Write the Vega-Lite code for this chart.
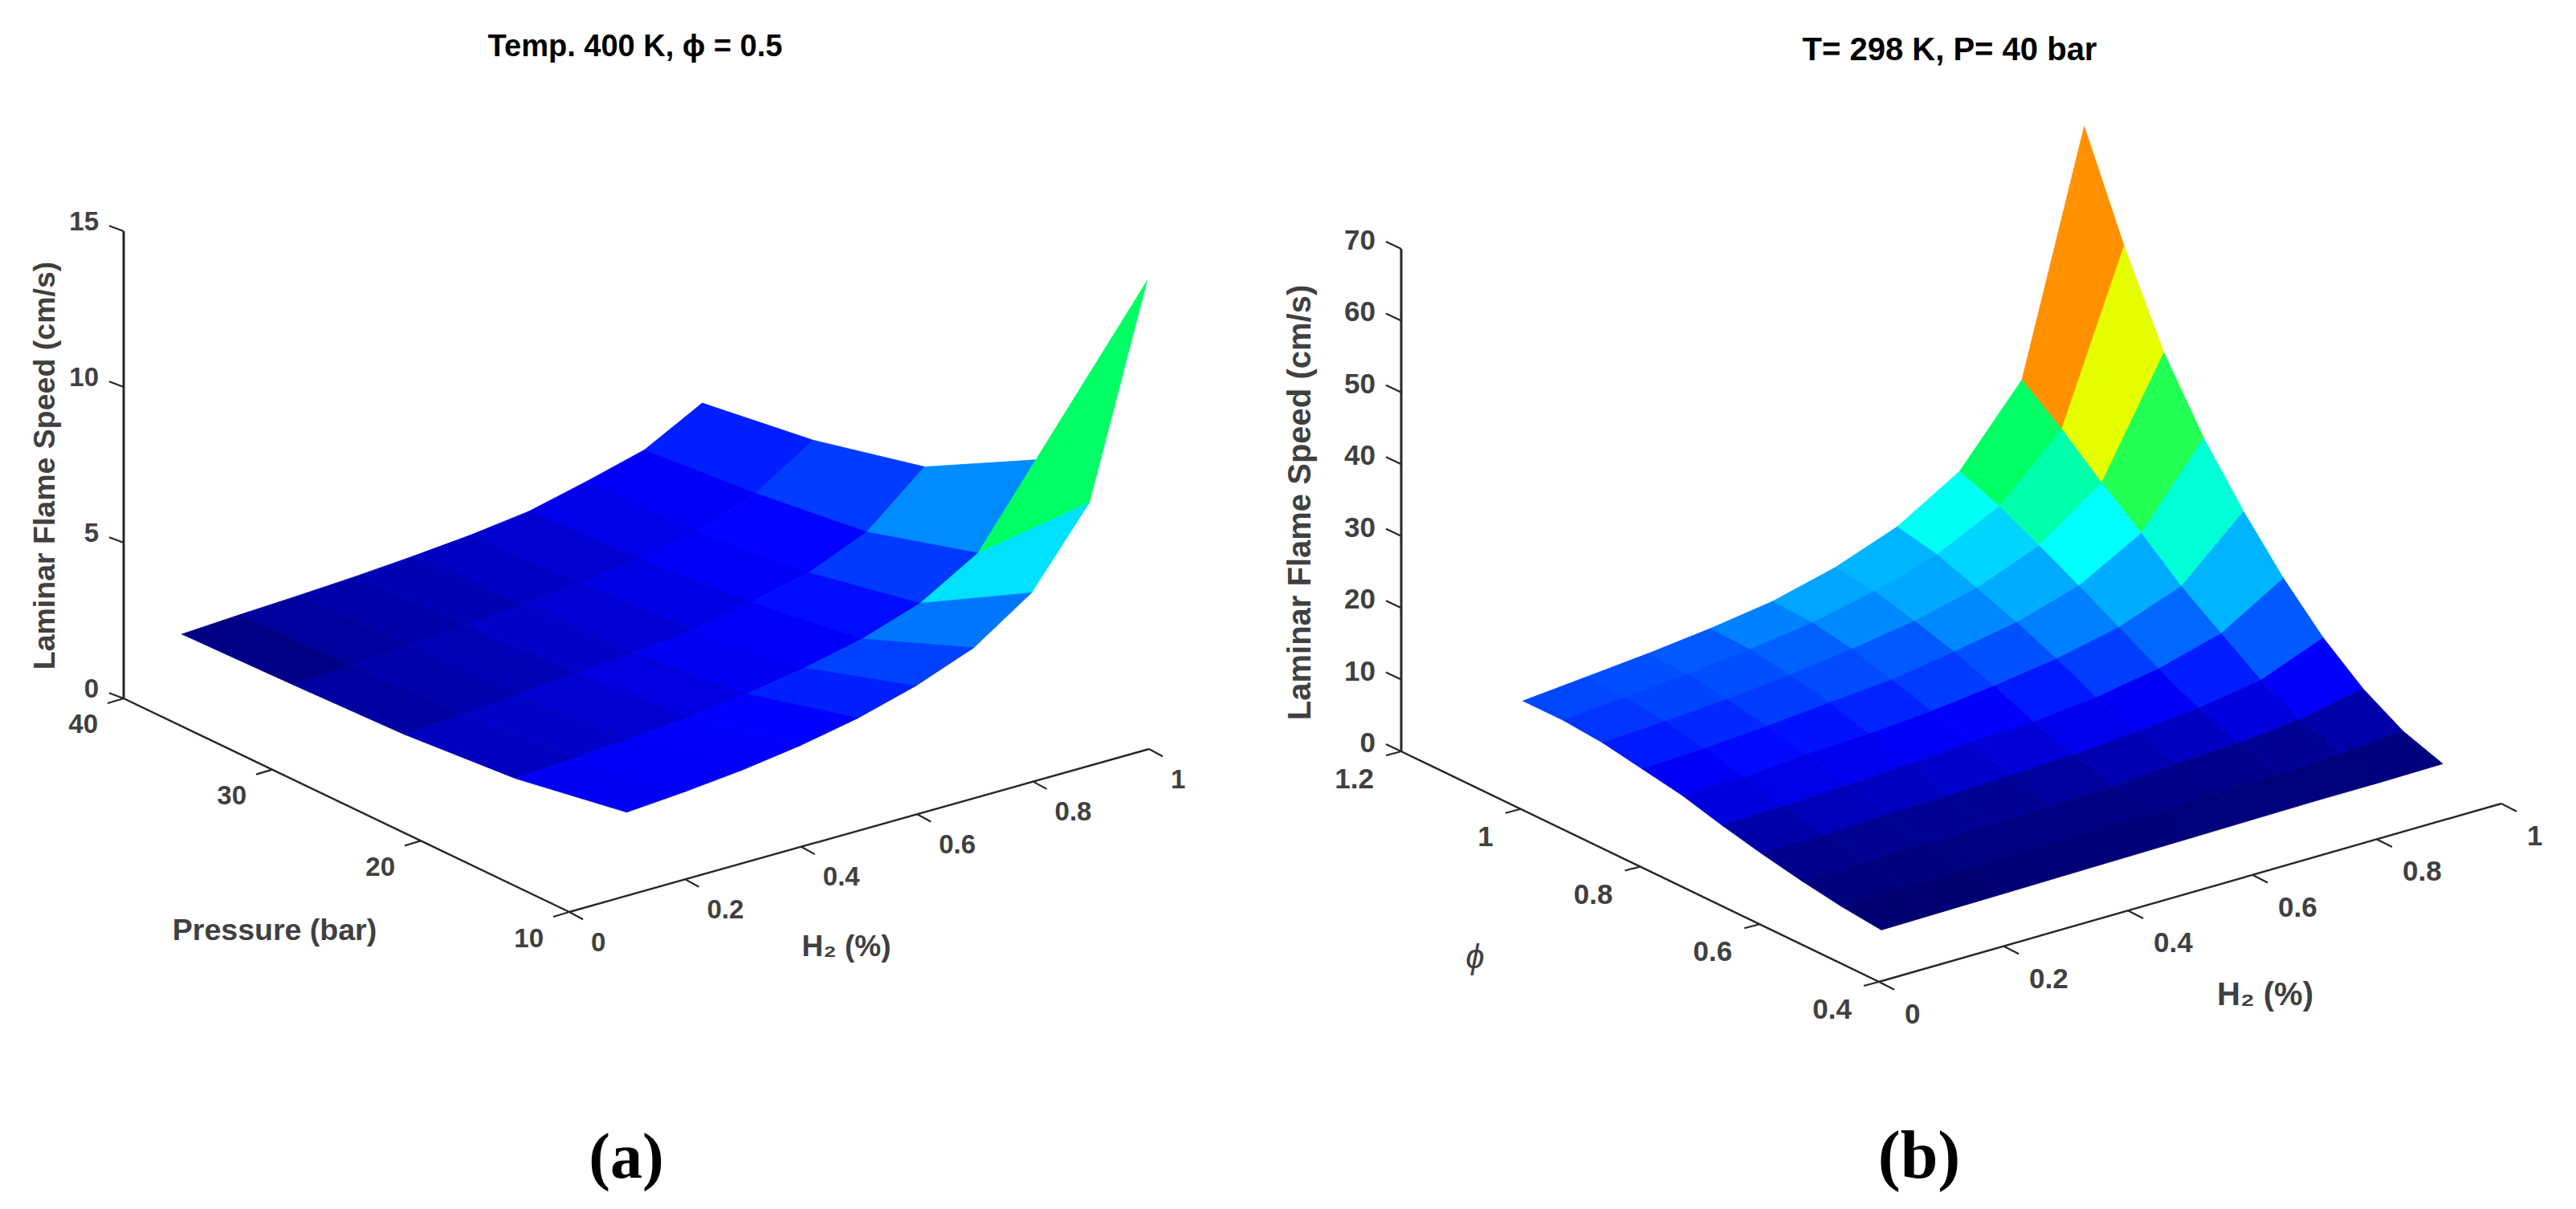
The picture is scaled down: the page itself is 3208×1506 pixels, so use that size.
{
"$schema":"https://vega.github.io/schema/vega-lite/v6.json",
"width":3208,"height":1506,"padding":0,"autosize":{"type":"fit","contains":"padding"},
"background":"white",
"config":{"view":{"stroke":null}},
"params":[
{"name":"G","value":{
"a_h2":{"x0":709,"y0":1136,"v0":0,"dx":722,"dy":-203,"tx":17,"ty":9.3,"lx":27,"ly":38.5,"fs":33},
"a_p":{"x0":709,"y0":1136,"v0":10,"dx":-18.5,"dy":-8.867,"tx":-20,"ty":6,"lx":-32,"ly":33.5,"fs":33},
"a_z":{"x0":154,"y0":870,"v0":0,"dx":0,"dy":-38.8,"tx":-18,"ty":-6.7,"lx":-31,"ly":-11,"fs":33},
"b_h2":{"x0":2340,"y0":1223,"v0":0,"dx":775,"dy":-222,"tx":19,"ty":9.7,"lx":32,"ly":41,"fs":35},
"b_phi":{"x0":2340,"y0":1223,"v0":0.4,"dx":-743.75,"dy":-358.75,"tx":-19,"ty":5,"lx":-34,"ly":35,"fs":35},
"b_z":{"x0":1745,"y0":936,"v0":0,"dx":0,"dy":-8.943,"tx":-19,"ty":-9,"lx":-32,"ly":-10,"fs":35}}},
{"name":"L","value":{
"ylab_a":{"x":57,"y":580,"s":37.5,"r":270},
"ylab_b":{"x":1620,"y":626,"s":40,"r":270},
"plab_a":{"x":342,"y":1160,"s":37.5,"r":0},
"hlab_a":{"x":1054,"y":1180,"s":37,"r":0},
"hlab_b":{"x":2821,"y":1240,"s":40,"r":0},
"title_a":{"x":791,"y":70,"s":38,"r":0},
"title_b":{"x":2428,"y":75,"s":40,"r":0},
"let_a":{"x":780,"y":1443,"s":80,"r":0},
"let_b":{"x":2390,"y":1442,"s":84,"r":0},
"phi_b":{"x":1837,"y":1193,"s":42,"r":0}}}
],
"datasets":{
"verts":[
{"k":"a_9_4","panel":"a","i":9,"j":4,"speed":4.25},{"k":"a_8_4","panel":"a","i":8,"j":4,"speed":3.27},{"k":"a_7_4","panel":"a","i":7,"j":4,"speed":2.78},{"k":"a_6_4","panel":"a","i":6,"j":4,"speed":2.34},{"k":"a_5_4","panel":"a","i":5,"j":4,"speed":2.11},{"k":"a_4_4","panel":"a","i":4,"j":4,"speed":1.95},{"k":"a_3_4","panel":"a","i":3,"j":4,"speed":1.82},{"k":"a_2_4","panel":"a","i":2,"j":4,"speed":1.72},{"k":"a_1_4","panel":"a","i":1,"j":4,"speed":1.64},{"k":"a_0_4","panel":"a","i":0,"j":4,"speed":1.54},
{"k":"a_9_3","panel":"a","i":9,"j":3,"speed":4.77},{"k":"a_8_3","panel":"a","i":8,"j":3,"speed":3.59},{"k":"a_7_3","panel":"a","i":7,"j":3,"speed":2.91},{"k":"a_6_3","panel":"a","i":6,"j":3,"speed":2.55},{"k":"a_5_3","panel":"a","i":5,"j":3,"speed":2.27},{"k":"a_4_3","panel":"a","i":4,"j":3,"speed":2.12},{"k":"a_3_3","panel":"a","i":3,"j":3,"speed":1.96},{"k":"a_2_3","panel":"a","i":2,"j":3,"speed":1.86},{"k":"a_1_3","panel":"a","i":1,"j":3,"speed":1.73},{"k":"a_0_3","panel":"a","i":0,"j":3,"speed":1.63},
{"k":"a_9_2","panel":"a","i":9,"j":2,"speed":5.63},{"k":"a_8_2","panel":"a","i":8,"j":2,"speed":4.06},{"k":"a_7_2","panel":"a","i":7,"j":2,"speed":3.28},{"k":"a_6_2","panel":"a","i":6,"j":2,"speed":2.85},{"k":"a_5_2","panel":"a","i":5,"j":2,"speed":2.48},{"k":"a_4_2","panel":"a","i":4,"j":2,"speed":2.30},{"k":"a_3_2","panel":"a","i":3,"j":2,"speed":2.15},{"k":"a_2_2","panel":"a","i":2,"j":2,"speed":2.00},{"k":"a_1_2","panel":"a","i":1,"j":2,"speed":1.87},{"k":"a_0_2","panel":"a","i":0,"j":2,"speed":1.75},
{"k":"a_9_1","panel":"a","i":9,"j":1,"speed":7.57},{"k":"a_8_1","panel":"a","i":8,"j":1,"speed":5.10},{"k":"a_7_1","panel":"a","i":7,"j":1,"speed":4.01},{"k":"a_6_1","panel":"a","i":6,"j":1,"speed":3.39},{"k":"a_5_1","panel":"a","i":5,"j":1,"speed":2.98},{"k":"a_4_1","panel":"a","i":4,"j":1,"speed":2.67},{"k":"a_3_1","panel":"a","i":3,"j":1,"speed":2.44},{"k":"a_2_1","panel":"a","i":2,"j":1,"speed":2.29},{"k":"a_1_1","panel":"a","i":1,"j":1,"speed":2.16},{"k":"a_0_1","panel":"a","i":0,"j":1,"speed":2.05},
{"k":"a_9_0","panel":"a","i":9,"j":0,"speed":15.03},{"k":"a_8_0","panel":"a","i":8,"j":0,"speed":8.43},{"k":"a_7_0","panel":"a","i":7,"j":0,"speed":6.06},{"k":"a_6_0","panel":"a","i":6,"j":0,"speed":4.82},{"k":"a_5_0","panel":"a","i":5,"j":0,"speed":4.12},{"k":"a_4_0","panel":"a","i":4,"j":0,"speed":3.61},{"k":"a_3_0","panel":"a","i":3,"j":0,"speed":3.25},{"k":"a_2_0","panel":"a","i":2,"j":0,"speed":2.99},{"k":"a_1_0","panel":"a","i":1,"j":0,"speed":2.81},{"k":"a_0_0","panel":"a","i":0,"j":0,"speed":2.68},
{"k":"b_9_9","panel":"b","i":9,"j":9,"speed":72.6},{"k":"b_8_9","panel":"b","i":8,"j":9,"speed":40},{"k":"b_7_9","panel":"b","i":7,"j":9,"speed":29.8},{"k":"b_6_9","panel":"b","i":6,"j":9,"speed":24.6},{"k":"b_5_9","panel":"b","i":5,"j":9,"speed":21.4},{"k":"b_4_9","panel":"b","i":4,"j":9,"speed":19.2},{"k":"b_3_9","panel":"b","i":3,"j":9,"speed":17.9},{"k":"b_2_9","panel":"b","i":2,"j":9,"speed":16.9},{"k":"b_1_9","panel":"b","i":1,"j":9,"speed":16.1},{"k":"b_0_9","panel":"b","i":0,"j":9,"speed":15.3},
{"k":"b_9_8","panel":"b","i":9,"j":8,"speed":58.7},{"k":"b_8_8","panel":"b","i":8,"j":8,"speed":35.8},{"k":"b_7_8","panel":"b","i":7,"j":8,"speed":27.6},{"k":"b_6_8","panel":"b","i":6,"j":8,"speed":23.4},{"k":"b_5_8","panel":"b","i":5,"j":8,"speed":20.8},{"k":"b_4_8","panel":"b","i":4,"j":8,"speed":18.9},{"k":"b_3_8","panel":"b","i":3,"j":8,"speed":17.7},{"k":"b_2_8","panel":"b","i":2,"j":8,"speed":16.8},{"k":"b_1_8","panel":"b","i":1,"j":8,"speed":16},{"k":"b_0_8","panel":"b","i":0,"j":8,"speed":15.3},
{"k":"b_9_7","panel":"b","i":9,"j":7,"speed":46.6},{"k":"b_8_7","panel":"b","i":8,"j":7,"speed":31},{"k":"b_7_7","panel":"b","i":7,"j":7,"speed":24.8},{"k":"b_6_7","panel":"b","i":6,"j":7,"speed":21.4},{"k":"b_5_7","panel":"b","i":5,"j":7,"speed":19.3},{"k":"b_4_7","panel":"b","i":4,"j":7,"speed":17.9},{"k":"b_3_7","panel":"b","i":3,"j":7,"speed":16.8},{"k":"b_2_7","panel":"b","i":2,"j":7,"speed":15.9},{"k":"b_1_7","panel":"b","i":1,"j":7,"speed":15.3},{"k":"b_0_7","panel":"b","i":0,"j":7,"speed":14.8},
{"k":"b_9_6","panel":"b","i":9,"j":6,"speed":37.4},{"k":"b_8_6","panel":"b","i":8,"j":6,"speed":26.7},{"k":"b_7_6","panel":"b","i":7,"j":6,"speed":21.9},{"k":"b_6_6","panel":"b","i":6,"j":6,"speed":19.3},{"k":"b_5_6","panel":"b","i":5,"j":6,"speed":17.7},{"k":"b_4_6","panel":"b","i":4,"j":6,"speed":16.3},{"k":"b_3_6","panel":"b","i":3,"j":6,"speed":15.6},{"k":"b_2_6","panel":"b","i":2,"j":6,"speed":14.8},{"k":"b_1_6","panel":"b","i":1,"j":6,"speed":14.2},{"k":"b_0_6","panel":"b","i":0,"j":6,"speed":13.8},
{"k":"b_9_5","panel":"b","i":9,"j":5,"speed":29.9},{"k":"b_8_5","panel":"b","i":8,"j":5,"speed":22},{"k":"b_7_5","panel":"b","i":7,"j":5,"speed":18.8},{"k":"b_6_5","panel":"b","i":6,"j":5,"speed":16.9},{"k":"b_5_5","panel":"b","i":5,"j":5,"speed":15.6},{"k":"b_4_5","panel":"b","i":4,"j":5,"speed":14.6},{"k":"b_3_5","panel":"b","i":3,"j":5,"speed":13.9},{"k":"b_2_5","panel":"b","i":2,"j":5,"speed":13.6},{"k":"b_1_5","panel":"b","i":1,"j":5,"speed":12.9},{"k":"b_0_5","panel":"b","i":0,"j":5,"speed":12.8},
{"k":"b_9_4","panel":"b","i":9,"j":4,"speed":23.3},{"k":"b_8_4","panel":"b","i":8,"j":4,"speed":18.1},{"k":"b_7_4","panel":"b","i":7,"j":4,"speed":15.7},{"k":"b_6_4","panel":"b","i":6,"j":4,"speed":14.2},{"k":"b_5_4","panel":"b","i":5,"j":4,"speed":13.3},{"k":"b_4_4","panel":"b","i":4,"j":4,"speed":13},{"k":"b_3_4","panel":"b","i":3,"j":4,"speed":12.4},{"k":"b_2_4","panel":"b","i":2,"j":4,"speed":11.9},{"k":"b_1_4","panel":"b","i":1,"j":4,"speed":11.5},{"k":"b_0_4","panel":"b","i":0,"j":4,"speed":11.3},
{"k":"b_9_3","panel":"b","i":9,"j":3,"speed":17.7},{"k":"b_8_3","panel":"b","i":8,"j":3,"speed":14.3},{"k":"b_7_3","panel":"b","i":7,"j":3,"speed":12.9},{"k":"b_6_3","panel":"b","i":6,"j":3,"speed":12.1},{"k":"b_5_3","panel":"b","i":5,"j":3,"speed":11.4},{"k":"b_4_3","panel":"b","i":4,"j":3,"speed":11},{"k":"b_3_3","panel":"b","i":3,"j":3,"speed":10.7},{"k":"b_2_3","panel":"b","i":2,"j":3,"speed":10.5},{"k":"b_1_3","panel":"b","i":1,"j":3,"speed":10.1},{"k":"b_0_3","panel":"b","i":0,"j":3,"speed":10},
{"k":"b_9_2","panel":"b","i":9,"j":2,"speed":13.3},{"k":"b_8_2","panel":"b","i":8,"j":2,"speed":11.6},{"k":"b_7_2","panel":"b","i":7,"j":2,"speed":10.7},{"k":"b_6_2","panel":"b","i":6,"j":2,"speed":10.3},{"k":"b_5_2","panel":"b","i":5,"j":2,"speed":9.6},{"k":"b_4_2","panel":"b","i":4,"j":2,"speed":9.4},{"k":"b_3_2","panel":"b","i":3,"j":2,"speed":9.3},{"k":"b_2_2","panel":"b","i":2,"j":2,"speed":9.2},{"k":"b_1_2","panel":"b","i":1,"j":2,"speed":9},{"k":"b_0_2","panel":"b","i":0,"j":2,"speed":8.9},
{"k":"b_9_1","panel":"b","i":9,"j":1,"speed":10.1},{"k":"b_8_1","panel":"b","i":8,"j":1,"speed":9.4},{"k":"b_7_1","panel":"b","i":7,"j":1,"speed":9},{"k":"b_6_1","panel":"b","i":6,"j":1,"speed":8.9},{"k":"b_5_1","panel":"b","i":5,"j":1,"speed":8.6},{"k":"b_4_1","panel":"b","i":4,"j":1,"speed":8.5},{"k":"b_3_1","panel":"b","i":3,"j":1,"speed":8.4},{"k":"b_2_1","panel":"b","i":2,"j":1,"speed":8.3},{"k":"b_1_1","panel":"b","i":1,"j":1,"speed":8.2},{"k":"b_0_1","panel":"b","i":0,"j":1,"speed":8},
{"k":"b_9_0","panel":"b","i":9,"j":0,"speed":8.2},{"k":"b_8_0","panel":"b","i":8,"j":0,"speed":8.1},{"k":"b_7_0","panel":"b","i":7,"j":0,"speed":8.1},{"k":"b_6_0","panel":"b","i":6,"j":0,"speed":8},{"k":"b_5_0","panel":"b","i":5,"j":0,"speed":7.9},{"k":"b_4_0","panel":"b","i":4,"j":0,"speed":7.8},{"k":"b_3_0","panel":"b","i":3,"j":0,"speed":7.7},{"k":"b_2_0","panel":"b","i":2,"j":0,"speed":7.6},{"k":"b_1_0","panel":"b","i":1,"j":0,"speed":7.5},{"k":"b_0_0","panel":"b","i":0,"j":0,"speed":7.4}
],
"ticks":[
{"panel":"a","axis":"z","value":0,"label":"0"},{"panel":"a","axis":"z","value":5,"label":"5"},{"panel":"a","axis":"z","value":10,"label":"10"},{"panel":"a","axis":"z","value":15,"label":"15"},
{"panel":"a","axis":"p","value":10,"label":"10"},{"panel":"a","axis":"p","value":20,"label":"20"},{"panel":"a","axis":"p","value":30,"label":"30"},{"panel":"a","axis":"p","value":40,"label":"40"},
{"panel":"a","axis":"h2","value":0,"label":"0"},{"panel":"a","axis":"h2","value":0.2,"label":"0.2"},{"panel":"a","axis":"h2","value":0.4,"label":"0.4"},{"panel":"a","axis":"h2","value":0.6,"label":"0.6"},{"panel":"a","axis":"h2","value":0.8,"label":"0.8"},{"panel":"a","axis":"h2","value":1,"label":"1"},
{"panel":"b","axis":"z","value":0,"label":"0"},{"panel":"b","axis":"z","value":10,"label":"10"},{"panel":"b","axis":"z","value":20,"label":"20"},{"panel":"b","axis":"z","value":30,"label":"30"},{"panel":"b","axis":"z","value":40,"label":"40"},{"panel":"b","axis":"z","value":50,"label":"50"},{"panel":"b","axis":"z","value":60,"label":"60"},{"panel":"b","axis":"z","value":70,"label":"70"},
{"panel":"b","axis":"phi","value":0.4,"label":"0.4"},{"panel":"b","axis":"phi","value":0.6,"label":"0.6"},{"panel":"b","axis":"phi","value":0.8,"label":"0.8"},{"panel":"b","axis":"phi","value":1,"label":"1"},{"panel":"b","axis":"phi","value":1.2,"label":"1.2"},
{"panel":"b","axis":"h2","value":0,"label":"0"},{"panel":"b","axis":"h2","value":0.2,"label":"0.2"},{"panel":"b","axis":"h2","value":0.4,"label":"0.4"},{"panel":"b","axis":"h2","value":0.6,"label":"0.6"},{"panel":"b","axis":"h2","value":0.8,"label":"0.8"},{"panel":"b","axis":"h2","value":1,"label":"1"}
],
"axes":[
{"panel":"a","axis":"z","from":0,"to":15},{"panel":"a","axis":"p","from":10,"to":40},{"panel":"a","axis":"h2","from":0,"to":1},
{"panel":"b","axis":"z","from":0,"to":70},{"panel":"b","axis":"phi","from":0.4,"to":1.2},{"panel":"b","axis":"h2","from":0,"to":1}
],
"notes":[
{"id":"ylab_a","kind":"axis","text":"Laminar Flame Speed (cm/s)"},
{"id":"ylab_b","kind":"axis","text":"Laminar Flame Speed (cm/s)"},
{"id":"plab_a","kind":"axis","text":"Pressure (bar)"},
{"id":"hlab_a","kind":"axis","text":"H₂ (%)"},
{"id":"hlab_b","kind":"axis","text":"H₂ (%)"},
{"id":"title_a","kind":"title","text":"Temp. 400 K, ϕ = 0.5"},
{"id":"title_b","kind":"title","text":"T= 298 K, P= 40 bar"},
{"id":"let_a","kind":"letter","text":"(a)"},
{"id":"let_b","kind":"letter","text":"(b)"},
{"id":"phi_b","kind":"phi","text":"ϕ"}
]
},
"layer":[
{"data":{"name":"verts"},
"transform":[
{"filter":"datum.panel=='a'&&datum.i<9&&datum.j<4"},
{"calculate":"'a_'+(datum.i+1)+'_'+datum.j","as":"k10"},
{"calculate":"'a_'+datum.i+'_'+(datum.j+1)","as":"k01"},
{"calculate":"'a_'+(datum.i+1)+'_'+(datum.j+1)","as":"k11"},
{"lookup":"k10","from":{"data":{"name":"verts"},"key":"k","fields":["speed"]},"as":["z10"]},
{"lookup":"k01","from":{"data":{"name":"verts"},"key":"k","fields":["speed"]},"as":["z01"]},
{"lookup":"k11","from":{"data":{"name":"verts"},"key":"k","fields":["speed"]},"as":["z11"]},
{"calculate":"{type:'Feature',properties:{},geometry:{type:'Polygon',coordinates:[[[780.5+72*datum.i-138.5*datum.j,1115.7-20.3*datum.i-66.5*datum.j-38.8*datum.speed],[780.5+72*(datum.i+1)-138.5*datum.j,1115.7-20.3*(datum.i+1)-66.5*datum.j-38.8*datum.z10],[780.5+72*(datum.i+1)-138.5*(datum.j+1),1115.7-20.3*(datum.i+1)-66.5*(datum.j+1)-38.8*datum.z11],[780.5+72*datum.i-138.5*(datum.j+1),1115.7-20.3*datum.i-66.5*(datum.j+1)-38.8*datum.z01],[780.5+72*datum.i-138.5*datum.j,1115.7-20.3*datum.i-66.5*datum.j-38.8*datum.speed]]]}}","as":"geo"}
],
"projection":{"type":"identity","scale":1,"translate":[0,0]},
"mark":{"type":"geoshape","strokeWidth":0.8,"strokeJoin":"round"},
"encoding":{
"shape":{"field":"geo","type":"geojson"},
"fill":{"field":"speed","type":"quantitative","legend":null,"scale":{"interpolate":"rgb","domain":[1.54,1.63,1.75,2.05,2.68,3.25,3.59,4.06,5.1,6.06,8.43,15.03],"range":["#00007d","#000087","#0000a0","#0000be","#0000f5","#0000ff","#001eff","#003cff","#008cff","#00e1ff","#00ff64","#800000"]}},
"stroke":{"field":"speed","type":"quantitative","legend":null,"scale":{"interpolate":"rgb","domain":[1.54,1.63,1.75,2.05,2.68,3.25,3.59,4.06,5.1,6.06,8.43,15.03],"range":["#00007d","#000087","#0000a0","#0000be","#0000f5","#0000ff","#001eff","#003cff","#008cff","#00e1ff","#00ff64","#800000"]}}
}},
{"data":{"name":"verts"},
"transform":[
{"filter":"datum.panel=='b'&&datum.i<9&&datum.j<9"},
{"calculate":"'b_'+(datum.i+1)+'_'+datum.j","as":"k10"},
{"calculate":"'b_'+datum.i+'_'+(datum.j+1)","as":"k01"},
{"calculate":"'b_'+(datum.i+1)+'_'+(datum.j+1)","as":"k11"},
{"lookup":"k10","from":{"data":{"name":"verts"},"key":"k","fields":["speed"]},"as":["z10"]},
{"lookup":"k01","from":{"data":{"name":"verts"},"key":"k","fields":["speed"]},"as":["z01"]},
{"lookup":"k11","from":{"data":{"name":"verts"},"key":"k","fields":["speed"]},"as":["z11"]},
{"calculate":"{type:'Feature',properties:{},geometry:{type:'Polygon',coordinates:[[[2343+77.67*datum.i-49.6*datum.j,1225-22.2*datum.i-23.8*datum.j-9*datum.speed],[2343+77.67*(datum.i+1)-49.6*datum.j,1225-22.2*(datum.i+1)-23.8*datum.j-9*datum.z10],[2343+77.67*(datum.i+1)-49.6*(datum.j+1),1225-22.2*(datum.i+1)-23.8*(datum.j+1)-9*datum.z11],[2343+77.67*datum.i-49.6*(datum.j+1),1225-22.2*datum.i-23.8*(datum.j+1)-9*datum.z01],[2343+77.67*datum.i-49.6*datum.j,1225-22.2*datum.i-23.8*datum.j-9*datum.speed]]]}}","as":"geo"}
],
"projection":{"type":"identity","scale":1,"translate":[0,0]},
"mark":{"type":"geoshape","strokeWidth":0.8,"strokeJoin":"round"},
"encoding":{
"shape":{"field":"geo","type":"geojson"},
"fill":{"field":"z10","type":"quantitative","legend":null,"scale":{"interpolate":"rgb","domain":[8.3,9,10.1,11,12,13.3,14,16,17.7,18.9,20.8,23.3,26.7,29.9,31,35.8,46.6,58.7,72.6],"range":["#000080","#00008c","#0000aa","#0000cd","#0000eb","#0000fc","#0014ff","#0046ff","#005aff","#0082ff","#00a5ff","#00b4ff","#00ffff","#00ffd7","#00ffaa","#00ff64","#e6ff00","#ff9100","#800000"]}},
"stroke":{"field":"z10","type":"quantitative","legend":null,"scale":{"interpolate":"rgb","domain":[8.3,9,10.1,11,12,13.3,14,16,17.7,18.9,20.8,23.3,26.7,29.9,31,35.8,46.6,58.7,72.6],"range":["#000080","#00008c","#0000aa","#0000cd","#0000eb","#0000fc","#0014ff","#0046ff","#005aff","#0082ff","#00a5ff","#00b4ff","#00ffff","#00ffd7","#00ffaa","#00ff64","#e6ff00","#ff9100","#800000"]}}
}},
{"data":{"name":"axes"},
"transform":[
{"calculate":"G[datum.panel+'_'+datum.axis]","as":"g"},
{"calculate":"datum.g.x0+datum.g.dx*(datum.from-datum.g.v0)","as":"px"},
{"calculate":"datum.g.y0+datum.g.dy*(datum.from-datum.g.v0)","as":"py"},
{"calculate":"datum.g.x0+datum.g.dx*(datum.to-datum.g.v0)","as":"qx"},
{"calculate":"datum.g.y0+datum.g.dy*(datum.to-datum.g.v0)","as":"qy"},
{"calculate":"datum.axis=='z'?3:2.4","as":"w"}
],
"mark":{"type":"rule","color":"#262626"},
"encoding":{
"x":{"field":"px","type":"quantitative","axis":null,"scale":{"domain":[0,3208],"range":[0,3208],"nice":false,"zero":false}},
"y":{"field":"py","type":"quantitative","axis":null,"scale":{"domain":[0,1506],"range":[0,1506],"nice":false,"zero":false}},
"x2":{"field":"qx"},"y2":{"field":"qy"},
"strokeWidth":{"field":"w","type":"quantitative","scale":null}
}},
{"data":{"name":"ticks"},
"transform":[
{"calculate":"G[datum.panel+'_'+datum.axis]","as":"g"},
{"calculate":"datum.g.x0+datum.g.dx*(datum.value-datum.g.v0)","as":"px"},
{"calculate":"datum.g.y0+datum.g.dy*(datum.value-datum.g.v0)","as":"py"},
{"calculate":"datum.px+datum.g.tx","as":"qx"},
{"calculate":"datum.py+datum.g.ty","as":"qy"}
],
"mark":{"type":"rule","color":"#262626","strokeWidth":2.2},
"encoding":{
"x":{"field":"px","type":"quantitative","axis":null,"scale":{"domain":[0,3208],"range":[0,3208],"nice":false,"zero":false}},
"y":{"field":"py","type":"quantitative","axis":null,"scale":{"domain":[0,1506],"range":[0,1506],"nice":false,"zero":false}},
"x2":{"field":"qx"},"y2":{"field":"qy"}
}},
{"data":{"name":"ticks"},
"transform":[
{"filter":"datum.axis=='h2'"},
{"calculate":"G[datum.panel+'_'+datum.axis]","as":"g"},
{"calculate":"datum.g.x0+datum.g.dx*(datum.value-datum.g.v0)+datum.g.lx","as":"px"},
{"calculate":"datum.g.y0+datum.g.dy*(datum.value-datum.g.v0)+datum.g.ly","as":"py"},
{"calculate":"datum.g.fs","as":"fs"}
],
"mark":{"type":"text","font":"Liberation Sans","fontWeight":"bold","color":"#404040","align":"left","baseline":"middle"},
"encoding":{
"x":{"field":"px","type":"quantitative","axis":null,"scale":{"domain":[0,3208],"range":[0,3208],"nice":false,"zero":false}},
"y":{"field":"py","type":"quantitative","axis":null,"scale":{"domain":[0,1506],"range":[0,1506],"nice":false,"zero":false}},
"text":{"field":"label"},
"size":{"field":"fs","type":"quantitative","scale":null}
}},
{"data":{"name":"ticks"},
"transform":[
{"filter":"datum.axis!='h2'"},
{"calculate":"G[datum.panel+'_'+datum.axis]","as":"g"},
{"calculate":"datum.g.x0+datum.g.dx*(datum.value-datum.g.v0)+datum.g.lx","as":"px"},
{"calculate":"datum.g.y0+datum.g.dy*(datum.value-datum.g.v0)+datum.g.ly","as":"py"},
{"calculate":"datum.g.fs","as":"fs"}
],
"mark":{"type":"text","font":"Liberation Sans","fontWeight":"bold","color":"#404040","align":"right","baseline":"middle"},
"encoding":{
"x":{"field":"px","type":"quantitative","axis":null,"scale":{"domain":[0,3208],"range":[0,3208],"nice":false,"zero":false}},
"y":{"field":"py","type":"quantitative","axis":null,"scale":{"domain":[0,1506],"range":[0,1506],"nice":false,"zero":false}},
"text":{"field":"label"},
"size":{"field":"fs","type":"quantitative","scale":null}
}},
{"data":{"name":"notes"},
"transform":[
{"filter":"datum.kind=='axis'"},
{"calculate":"L[datum.id].x","as":"px"},{"calculate":"L[datum.id].y","as":"py"},{"calculate":"L[datum.id].s","as":"fs"},{"calculate":"L[datum.id].r","as":"rot"}
],
"mark":{"type":"text","font":"Liberation Sans","fontWeight":"bold","color":"#404040","align":"center","baseline":"middle"},
"encoding":{
"x":{"field":"px","type":"quantitative","axis":null,"scale":{"domain":[0,3208],"range":[0,3208],"nice":false,"zero":false}},
"y":{"field":"py","type":"quantitative","axis":null,"scale":{"domain":[0,1506],"range":[0,1506],"nice":false,"zero":false}},
"text":{"field":"text"},
"size":{"field":"fs","type":"quantitative","scale":null},
"angle":{"field":"rot","type":"quantitative","scale":null}
}},
{"data":{"name":"notes"},
"transform":[
{"filter":"datum.kind=='title'"},
{"calculate":"L[datum.id].x","as":"px"},{"calculate":"L[datum.id].y","as":"py"},{"calculate":"L[datum.id].s","as":"fs"}
],
"mark":{"type":"text","font":"Liberation Sans","fontWeight":"bold","color":"#000000","align":"center","baseline":"alphabetic"},
"encoding":{
"x":{"field":"px","type":"quantitative","axis":null,"scale":{"domain":[0,3208],"range":[0,3208],"nice":false,"zero":false}},
"y":{"field":"py","type":"quantitative","axis":null,"scale":{"domain":[0,1506],"range":[0,1506],"nice":false,"zero":false}},
"text":{"field":"text"},
"size":{"field":"fs","type":"quantitative","scale":null}
}},
{"data":{"name":"notes"},
"transform":[
{"filter":"datum.kind=='letter'"},
{"calculate":"L[datum.id].x","as":"px"},{"calculate":"L[datum.id].y","as":"py"},{"calculate":"L[datum.id].s","as":"fs"}
],
"mark":{"type":"text","font":"Liberation Serif","fontWeight":"bold","color":"#000000","align":"center","baseline":"middle"},
"encoding":{
"x":{"field":"px","type":"quantitative","axis":null,"scale":{"domain":[0,3208],"range":[0,3208],"nice":false,"zero":false}},
"y":{"field":"py","type":"quantitative","axis":null,"scale":{"domain":[0,1506],"range":[0,1506],"nice":false,"zero":false}},
"text":{"field":"text"},
"size":{"field":"fs","type":"quantitative","scale":null}
}},
{"data":{"name":"notes"},
"transform":[
{"filter":"datum.kind=='phi'"},
{"calculate":"L[datum.id].x","as":"px"},{"calculate":"L[datum.id].y","as":"py"},{"calculate":"L[datum.id].s","as":"fs"}
],
"mark":{"type":"text","font":"Liberation Sans","fontStyle":"italic","color":"#404040","align":"center","baseline":"middle"},
"encoding":{
"x":{"field":"px","type":"quantitative","axis":null,"scale":{"domain":[0,3208],"range":[0,3208],"nice":false,"zero":false}},
"y":{"field":"py","type":"quantitative","axis":null,"scale":{"domain":[0,1506],"range":[0,1506],"nice":false,"zero":false}},
"text":{"field":"text"},
"size":{"field":"fs","type":"quantitative","scale":null}
}}
],
"resolve":{"scale":{"fill":"independent","stroke":"independent"}}
}
